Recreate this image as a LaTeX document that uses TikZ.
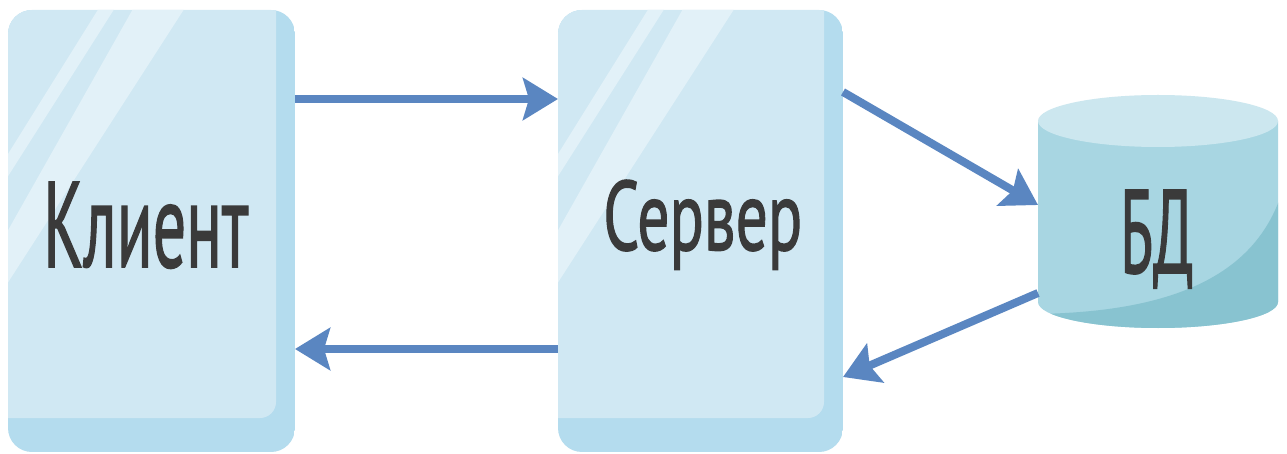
\documentclass[tikz,border=0pt]{standalone}
\usepackage{fontspec}
\setmainfont{PT Sans}
\newfontfamily\capfont{PT Sans}[FakeBold=1.5]
\usetikzlibrary{arrows.meta}

\definecolor{face}{HTML}{D0E8F3}
\definecolor{side}{HTML}{B4DCEE}
\definecolor{gloss}{HTML}{E2F1F8}
\definecolor{arrowblue}{HTML}{5A86C1}
\definecolor{dbbody}{HTML}{A8D6E2}
\definecolor{dbtop}{HTML}{CCE7EF}
\definecolor{dbshade}{HTML}{88C3D0}
\definecolor{ink}{HTML}{3A3A3A}

\tikzset{
  flow/.style={draw=arrowblue, line width=8pt,
    -{Stealth[length=35pt,width=42pt,inset=6pt]}},
  anchorbox/.style={inner sep=0pt, outer sep=0pt, draw=none},
  caption/.style={anchor=base west, inner sep=0pt, text=ink, font=\capfont},
}

% a glass panel between the x positions #1 and #2
\newcommand\glasspanel[2]{%
  \begin{scope}
    \path[clip, rounded corners=24pt] (#1,10) rectangle (#2,452);
    \fill[side] (#1,10) rectangle (#2,452);
    \fill[face, rounded corners=16pt]
      (#1-40,-30) -- (#2-19,-30) -- (#2-19,418) -- (#1-40,418) -- cycle;
    \fill[gloss] (#1+96,0) -- (#1+112,0) -- (#1-10,192) -- (#1-10,170) -- cycle;
    \fill[gloss] (#1+130,0) -- (#1+182,0) -- (#1-10,298) -- (#1-10,248) -- cycle;
  \end{scope}}

\begin{document}
\begin{tikzpicture}[x=1pt, y=-1pt]
  \useasboundingbox[fill=white] (0,0) rectangle (1287,454);

  % panels
  \glasspanel{8}{295}
  \glasspanel{558}{843}
  \node[anchorbox, minimum width=287pt, minimum height=442pt] (client) at (151.5,231) {};
  \node[anchorbox, minimum width=285pt, minimum height=442pt] (server) at (700.5,231) {};

  % database cylinder
  \begin{scope}
    \path[clip] (1038,121) -- (1038,302) arc[start angle=180, end angle=360,
      x radius=120, y radius=-26] -- (1278,121) -- cycle;
    \fill[dbbody] (1030,100) rectangle (1290,340);
    \fill[dbshade] (1280,198) .. controls (1252,276) and (1172,312) .. (1036,314)
      -- (1036,340) -- (1290,340) -- cycle;
  \end{scope}
  \fill[dbtop] (1158,121) ellipse[x radius=120, y radius=26];
  \node[anchorbox, minimum width=240pt, minimum height=233pt] (db) at (1158,211.5) {};

  % captions
  \node[caption] (clientname) at (43,267) {\resizebox{205pt}{85pt}{Клиент}};
  \node[caption] (servername) at (603,250) {\resizebox{199pt}{70pt}{Сервер}};
  \node[caption] (dbname) at (1120,273) {\resizebox{73pt}{83pt}{БД}};

  % levels of the connectors
  \coordinate (upper) at (0,99);
  \coordinate (lower) at (0,349);
  \coordinate (outA) at (0,92);
  \coordinate (inA) at (0,205);
  \coordinate (outB) at (0,293);
  \coordinate (inB) at (0,377);

  % connectors
  \draw[flow] (client.east |- upper) -- (server.west |- upper);
  \draw[flow] (server.west |- lower) -- (client.east |- lower);
  \draw[flow] (server.east |- outA) -- (db.west |- inA);
  \draw[flow] (db.west |- outB) -- (server.east |- inB);
\end{tikzpicture}
\end{document}
